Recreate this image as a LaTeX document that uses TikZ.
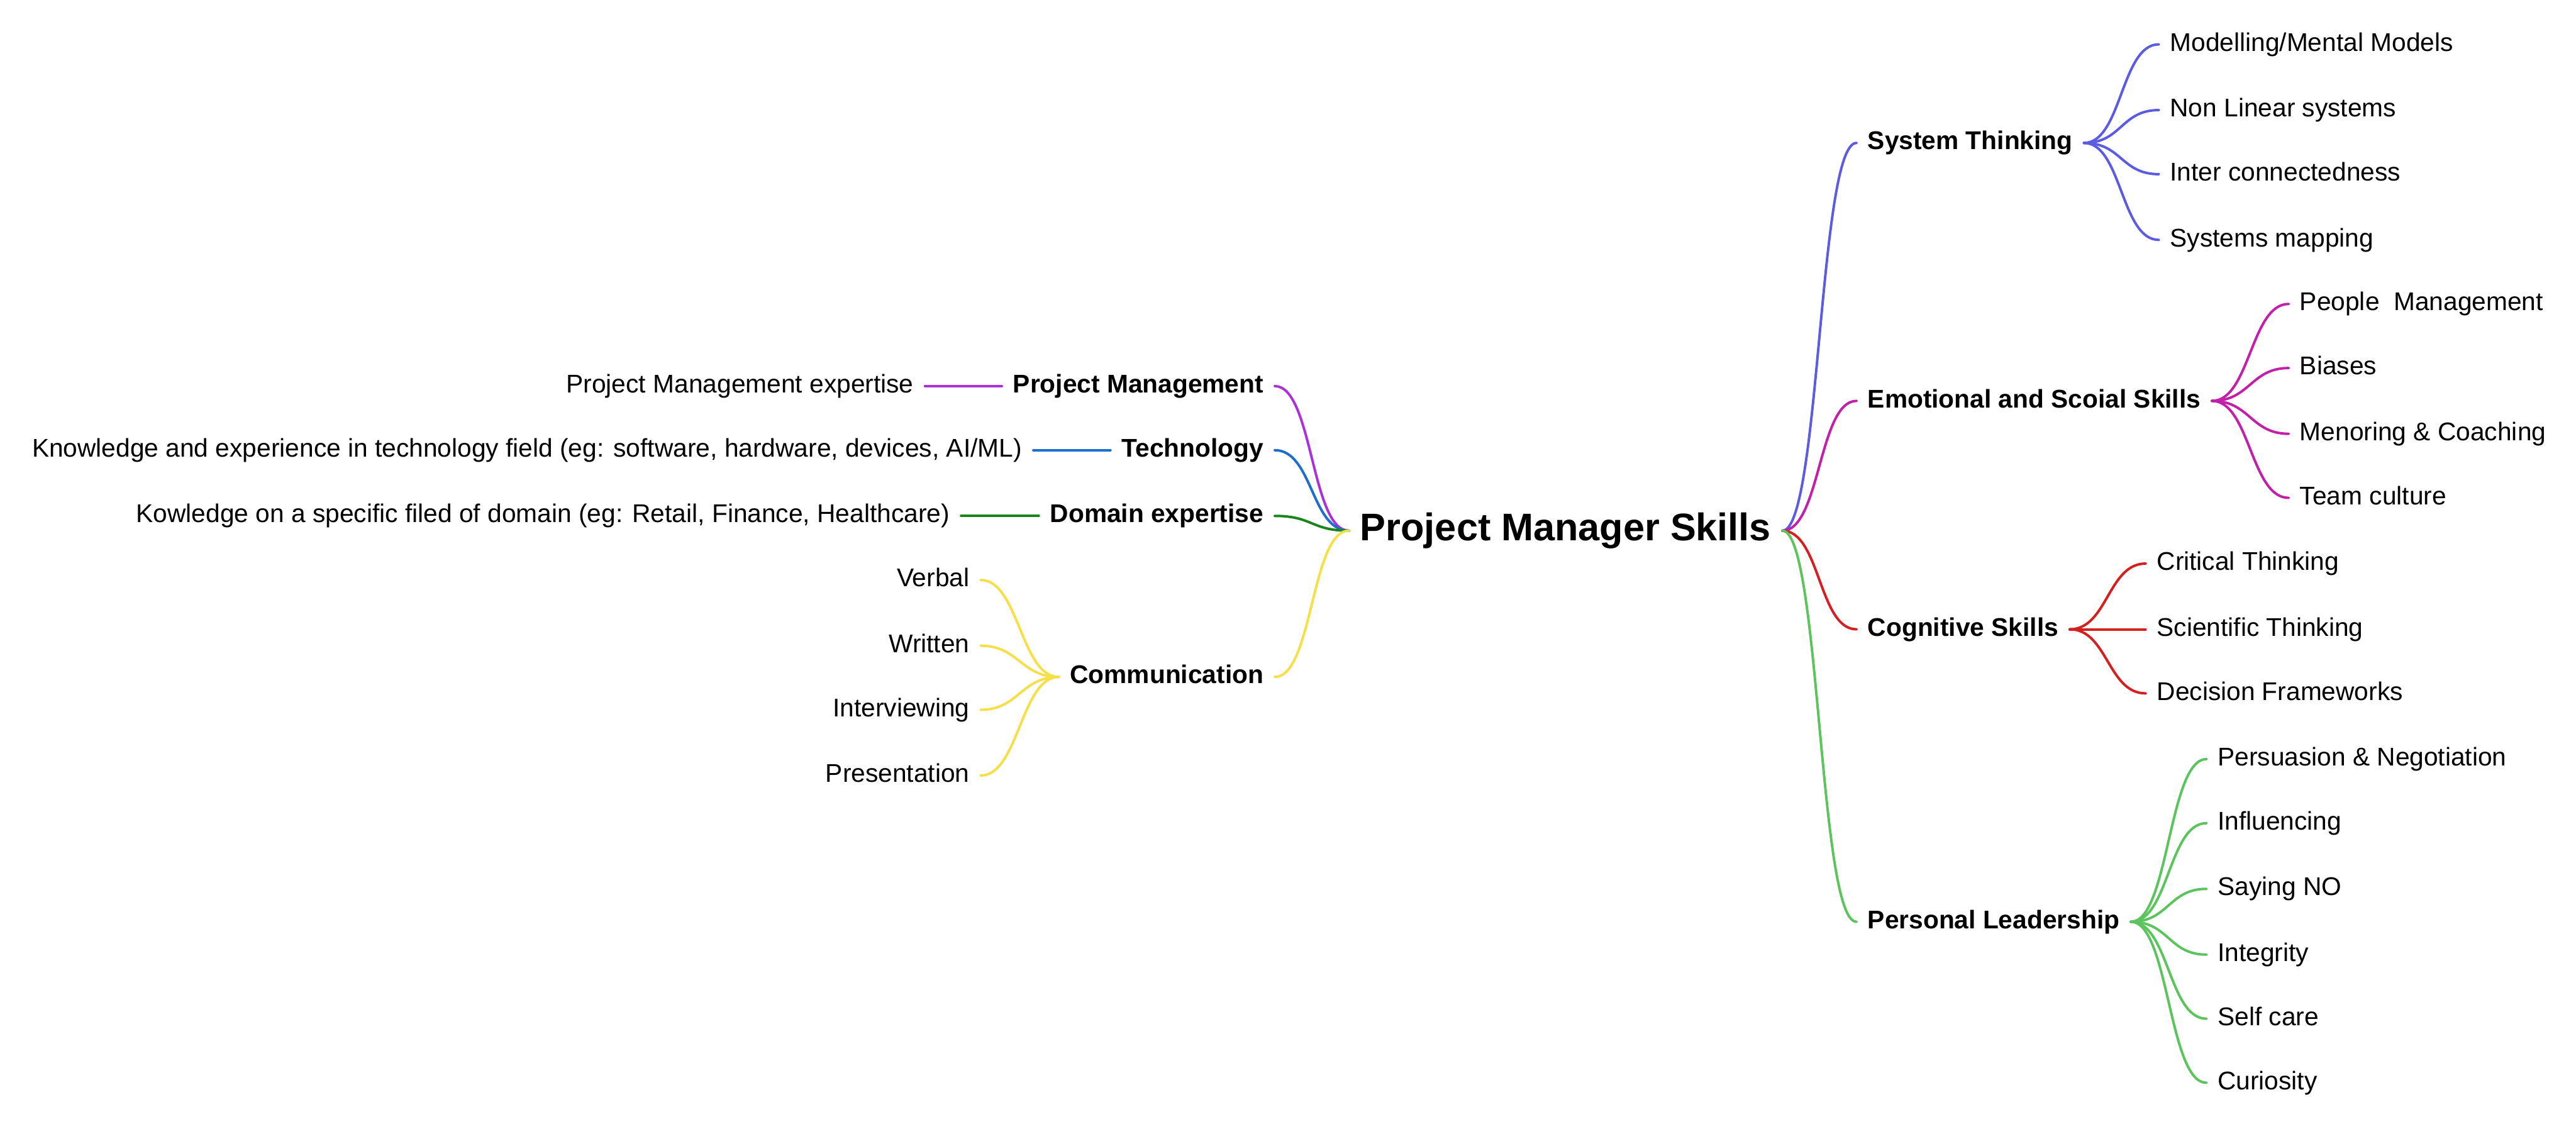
\documentclass[tikz,border=0pt]{standalone}
\usepackage{fontspec}
\setmainfont{Liberation Sans}
\usepackage{xcolor}
\usetikzlibrary{positioning}
\definecolor{skill-violet}{RGB}{92,92,226}
\definecolor{skill-magenta}{RGB}{194,32,168}
\definecolor{skill-red}{RGB}{212,32,32}
\definecolor{skill-green}{RGB}{92,196,92}
\definecolor{skill-purple}{RGB}{170,50,216}
\definecolor{skill-blue}{RGB}{30,111,204}
\definecolor{skill-darkgreen}{RGB}{26,134,26}
\definecolor{skill-yellow}{RGB}{245,224,74}

\tikzset{
  leaf/.style={inner xsep=0.2cm, inner ysep=0pt, text height=10pt, text depth=3pt,
    font=\fontsize{13.3}{16}\selectfont},
  topic/.style={leaf, font=\fontsize{13.3}{16}\selectfont\bfseries},
  centre/.style={inner xsep=0.2cm, inner ysep=0pt, text height=15pt, text depth=4.6pt,
    font=\fontsize{20}{24}\selectfont\bfseries},
  tor/.style={line width=1.3pt, line cap=round,
    to path={.. controls +(0.69cm,0) and +(-0.69cm,0) .. (\tikztotarget)}},
  tol/.style={line width=1.3pt, line cap=round,
    to path={.. controls +(-0.69cm,0) and +(0.69cm,0) .. (\tikztotarget)}},
}

\begin{document}
\begin{tikzpicture}[x=0.03cm, y=-0.03cm]
  \useasboundingbox (0,0) rectangle (1568,687);

  % Central topic
  \node[centre] (pms) at (953,323) {Project Manager Skills};

  % Right branches
  \node[topic, anchor=west] (sys) at (1130,87) {System Thinking};
  \node[topic, anchor=west] (emo) at (1130,244) {Emotional and Scoial Skills};
  \node[topic, anchor=west] (cog) at (1130,383) {Cognitive Skills};
  \node[topic, anchor=west] (pers) at (1130,561) {Personal Leadership};

  \node[leaf, anchor=west] (sys1) at (1314,27) {Modelling/Mental Models};
  \node[leaf, anchor=west] (sys2) at (1314,67) {Non Linear systems};
  \node[leaf, anchor=west] (sys3) at (1314,106) {Inter connectedness};
  \node[leaf, anchor=west] (sys4) at (1314,146) {Systems mapping};

  \node[leaf, anchor=west] (emo1) at (1393,185) {People\ \ Management};
  \node[leaf, anchor=west] (emo2) at (1393,224) {Biases};
  \node[leaf, anchor=west] (emo3) at (1393,264) {Menoring \& Coaching};
  \node[leaf, anchor=west] (emo4) at (1393,303) {Team culture};

  \node[leaf, anchor=west] (cog1) at (1306,343) {Critical Thinking};
  \node[leaf, anchor=west] (cog2) at (1306,383) {Scientific Thinking};
  \node[leaf, anchor=west] (cog3) at (1306,422) {Decision Frameworks};

  \node[leaf, anchor=west] (pers1) at (1343,462) {Persuasion \& Negotiation};
  \node[leaf, anchor=west] (pers2) at (1343,501) {Influencing};
  \node[leaf, anchor=west] (pers3) at (1343,541) {Saying NO};
  \node[leaf, anchor=west] (pers4) at (1343,581) {Integrity};
  \node[leaf, anchor=west] (pers5) at (1343,620) {Self care};
  \node[leaf, anchor=west] (pers6) at (1343,659) {Curiosity};

  % Left branches
  \node[topic, anchor=east] (pm) at (776,235) {Project Management};
  \node[topic, anchor=east] (tech) at (776,274) {Technology};
  \node[topic, anchor=east] (dom) at (776,314) {Domain expertise};
  \node[topic, anchor=east] (com) at (776,412) {Communication};

  \node[leaf, anchor=east] (pm1) at (563,235) {Project Management expertise};
  \node[leaf, anchor=east] (tech1) at (629,274) {Knowledge and experience in technology field (eg: software, hardware, devices, AI/ML)};
  \node[leaf, anchor=east] (dom1) at (585,314) {Kowledge on a specific filed of domain (eg: Retail, Finance, Healthcare)};

  \node[leaf, anchor=east] (com1) at (597,353) {Verbal};
  \node[leaf, anchor=east] (com2) at (597,393) {Written};
  \node[leaf, anchor=east] (com3) at (597,432) {Interviewing};
  \node[leaf, anchor=east] (com4) at (597,472) {Presentation};

  % Connectors, right
  \draw[tor, skill-violet] (pms.east) to (sys.west);
  \draw[tor, skill-violet] (sys.east) to (sys1.west);
  \draw[tor, skill-violet] (sys.east) to (sys2.west);
  \draw[tor, skill-violet] (sys.east) to (sys3.west);
  \draw[tor, skill-violet] (sys.east) to (sys4.west);

  \draw[tor, skill-magenta] (pms.east) to (emo.west);
  \draw[tor, skill-magenta] (emo.east) to (emo1.west);
  \draw[tor, skill-magenta] (emo.east) to (emo2.west);
  \draw[tor, skill-magenta] (emo.east) to (emo3.west);
  \draw[tor, skill-magenta] (emo.east) to (emo4.west);

  \draw[tor, skill-red] (pms.east) to (cog.west);
  \draw[tor, skill-red] (cog.east) to (cog1.west);
  \draw[tor, skill-red] (cog.east) to (cog2.west);
  \draw[tor, skill-red] (cog.east) to (cog3.west);

  \draw[tor, skill-green] (pms.east) to (pers.west);
  \draw[tor, skill-green] (pers.east) to (pers1.west);
  \draw[tor, skill-green] (pers.east) to (pers2.west);
  \draw[tor, skill-green] (pers.east) to (pers3.west);
  \draw[tor, skill-green] (pers.east) to (pers4.west);
  \draw[tor, skill-green] (pers.east) to (pers5.west);
  \draw[tor, skill-green] (pers.east) to (pers6.west);

  % Connectors, left
  \draw[tol, skill-purple] (pms.west) to (pm.east);
  \draw[tol, skill-purple] (pm.west) to (pm1.east);

  \draw[tol, skill-blue] (pms.west) to (tech.east);
  \draw[tol, skill-blue] (tech.west) to (tech1.east);

  \draw[tol, skill-darkgreen] (pms.west) to (dom.east);
  \draw[tol, skill-darkgreen] (dom.west) to (dom1.east);

  \draw[tol, skill-yellow] (pms.west) to (com.east);
  \draw[tol, skill-yellow] (com.west) to (com1.east);
  \draw[tol, skill-yellow] (com.west) to (com2.east);
  \draw[tol, skill-yellow] (com.west) to (com3.east);
  \draw[tol, skill-yellow] (com.west) to (com4.east);
\end{tikzpicture}
\end{document}
